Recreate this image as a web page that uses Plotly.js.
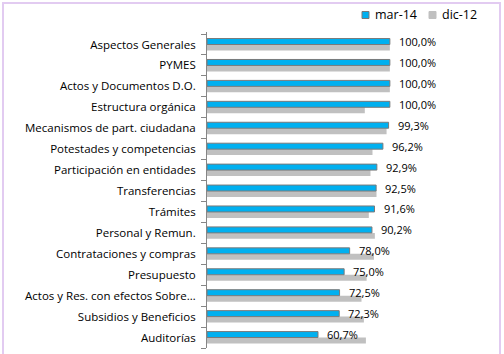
<!DOCTYPE html>
<html>
<head>
<meta charset="utf-8">
<script src="https://cdn.plot.ly/plotly-3.0.1.min.js"></script>
<style>
  html, body { margin: 0; padding: 0; background: #fff; }
  #wrap { position: relative; width: 504px; height: 354px; overflow: hidden; }
  #chart { width: 504px; height: 354px; }
  #frame { position: absolute; left: 2px; top: 2px; width: 495px; height: 400px;
           border: 2px solid #e2cbf1; pointer-events: none; }
</style>
</head>
<body>
<div id="wrap">
  <div id="chart"></div>
  <div id="frame"></div>
</div>
<script>
// Categories, top to bottom as in the reference
const categories = [
  "Aspectos Generales",
  "PYMES",
  "Actos y Documentos D.O.",
  "Estructura orgánica",
  "Mecanismos de part. ciudadana",
  "Potestades y competencias",
  "Participación en entidades",
  "Transferencias",
  "Trámites",
  "Personal y Remun.",
  "Contrataciones y compras",
  "Presupuesto",
  "Actos y Res. con efectos Sobre…",
  "Subsidios y Beneficios",
  "Auditorías"
];
const seriesNames = ["mar-14", "dic-12"];
const mar14 = [100.0, 100.0, 100.0, 100.0, 99.3, 96.2, 92.9, 92.5, 91.6, 90.2, 78.0, 75.0, 72.5, 72.3, 60.7];
const dic12 = [100.0, 100.0, 100.0, 86.3, 98.2, 90.5, 89.4, 92.7, 88.5, 91.8, 91.3, 87.3, 84.5, 85.8, 86.9];

const BLUE = '#00b0f0', GRAY = '#c0c0c0', EDGE = '#7a7a7a';
const fmt = v => v.toFixed(1).replace('.', ',') + '%';

const traceDic = {
  type: 'bar', orientation: 'h', name: seriesNames[1],
  x: dic12, y: categories,
  marker: { color: GRAY, line: { width: 0 } },
  hoverinfo: 'x+y', showlegend: false
};
const traceMar = {
  type: 'bar', orientation: 'h', name: seriesNames[0],
  x: mar14, y: categories,
  marker: { color: BLUE, line: { color: EDGE, width: 1 } },
  hoverinfo: 'x+y', showlegend: false
};

// plot-area geometry (pixels) used to place the hand-made legend
const M = { l: 207, r: 41, t: 32, b: 6 };
const W = 504, H = 354;
const pw = W - M.l - M.r, ph = H - M.t - M.b;
const px = x => (x - M.l) / pw;
const py = y => 1 + (M.t - y) / ph;

const annotations = categories.map((c, i) => ({
  x: mar14[i], y: c, xref: 'x', yref: 'y',
  text: fmt(mar14[i]), showarrow: false,
  xanchor: 'left', yanchor: 'middle', xshift: 7, yshift: 3,
  font: { family: 'Open Sans, sans-serif', size: 11, color: '#000' }
}));

// legend: swatch + label for each series
const legendItems = [
  { name: seriesNames[0], color: BLUE, line: EDGE, left: 362 },
  { name: seriesNames[1], color: GRAY, line: GRAY, left: 429 }
];
const shapes = [];
legendItems.forEach(it => {
  shapes.push({
    type: 'rect', xref: 'paper', yref: 'paper',
    x0: px(it.left), x1: px(it.left + 7), y0: py(18.5), y1: py(11.5),
    fillcolor: it.color, line: { color: it.line, width: 1 }
  });
  annotations.push({
    xref: 'paper', yref: 'paper', x: px(it.left + 11), y: py(15),
    text: it.name, showarrow: false, xanchor: 'left', yanchor: 'middle',
    font: { family: 'Open Sans, sans-serif', size: 12.5, color: '#000' }
  });
});

const layout = {
  width: W, height: H,
  margin: { l: M.l, r: M.r, t: M.t, b: M.b, autoexpand: false },
  paper_bgcolor: '#ffffff', plot_bgcolor: '#ffffff',
  barmode: 'group', bargap: 0.43, bargroupgap: 0,
  showlegend: false,
  xaxis: { range: [0, 140], visible: false, showgrid: false, zeroline: false, fixedrange: true },
  yaxis: {
    type: 'category', categoryorder: 'array', categoryarray: categories.slice().reverse(),
    showline: true, linecolor: '#868686', linewidth: 1,
    ticks: 'outside', ticklen: 5, tickcolor: '#868686', tickwidth: 1,
    tickson: 'boundaries', showgrid: false, zeroline: false,
    ticklabelstandoff: 8,
    tickfont: { family: 'Open Sans, sans-serif', size: 11.5, color: '#000' },
    fixedrange: true
  },
  shapes: shapes,
  annotations: annotations
};

Plotly.newPlot('chart', [traceDic, traceMar], layout, { displayModeBar: false, staticPlot: true });
</script>
</body>
</html>
